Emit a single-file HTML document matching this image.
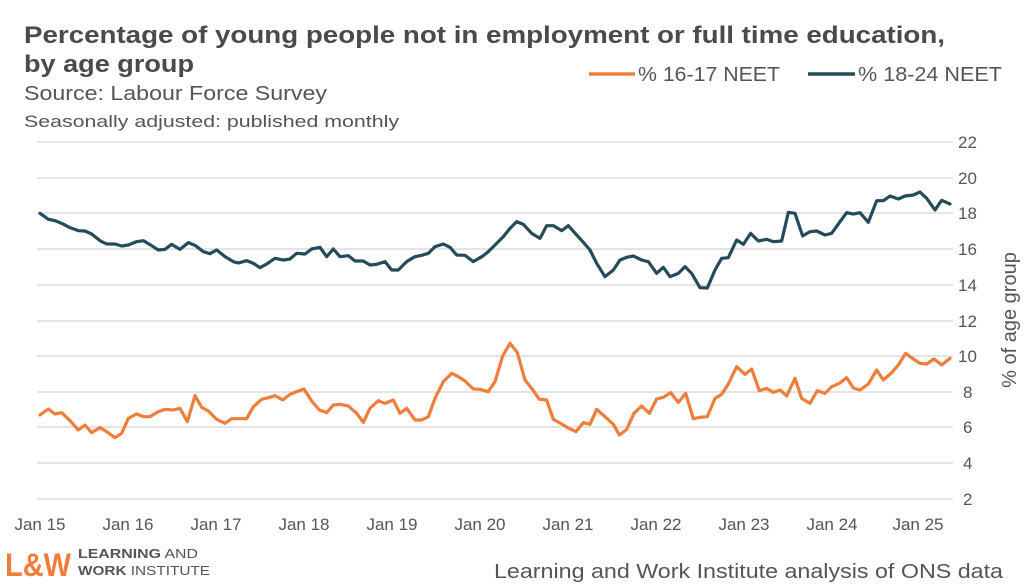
<!DOCTYPE html>
<html><head><meta charset="utf-8"><style>
html,body{margin:0;padding:0;background:#fff;}
svg{display:block;font-family:"Liberation Sans",sans-serif;}
</style></head><body>
<svg width="1024" height="586" viewBox="0 0 1024 586" xmlns="http://www.w3.org/2000/svg">
<rect width="1024" height="586" fill="#fff"/>
<text x="24" y="43" font-size="24" font-weight="bold" fill="#4a4a4a" textLength="921" lengthAdjust="spacingAndGlyphs">Percentage of young people not in employment or full time education,</text>
<text x="24" y="72" font-size="24" font-weight="bold" fill="#4a4a4a" textLength="170" lengthAdjust="spacingAndGlyphs">by age group</text>
<text x="24" y="100" font-size="20" fill="#555" textLength="303" lengthAdjust="spacingAndGlyphs">Source: Labour Force Survey</text>
<text x="24" y="127" font-size="17" fill="#555" textLength="375" lengthAdjust="spacingAndGlyphs">Seasonally adjusted: published monthly</text>
<line x1="589" y1="74" x2="635" y2="74" stroke="#ef7d3b" stroke-width="3.5"/>
<text x="638" y="81" font-size="20" fill="#555" textLength="142" lengthAdjust="spacingAndGlyphs">% 16-17 NEET</text>
<line x1="808" y1="74" x2="855" y2="74" stroke="#234b59" stroke-width="3.5"/>
<text x="858" y="81" font-size="20" fill="#555" textLength="144" lengthAdjust="spacingAndGlyphs">% 18-24 NEET</text>
<g stroke="#dcdcdc" stroke-width="1.5">
<line x1="37" x2="953" y1="142" y2="142"/><line x1="37" x2="953" y1="178" y2="178"/>
<line x1="37" x2="953" y1="213" y2="213"/><line x1="37" x2="953" y1="249" y2="249"/>
<line x1="37" x2="953" y1="285" y2="285"/><line x1="37" x2="953" y1="321" y2="321"/>
<line x1="37" x2="953" y1="356" y2="356"/><line x1="37" x2="953" y1="392" y2="392"/>
<line x1="37" x2="953" y1="427" y2="427"/><line x1="37" x2="953" y1="463" y2="463"/>
<line x1="37" x2="953" y1="499" y2="499"/>
</g>
<g font-size="17" fill="#555">
<text x="958" y="148">22</text><text x="958" y="184">20</text><text x="958" y="219">18</text>
<text x="958" y="255">16</text><text x="958" y="291">14</text><text x="958" y="327">12</text>
<text x="958" y="362">10</text><text x="963" y="398">8</text><text x="963" y="433">6</text>
<text x="963" y="469">4</text><text x="963" y="505">2</text>
</g>
<text transform="translate(1016,320) rotate(-90)" text-anchor="middle" font-size="20" fill="#555">% of age group</text>
<g font-size="17" fill="#555" text-anchor="middle">
<text x="40" y="530">Jan 15</text><text x="128" y="530">Jan 16</text><text x="216" y="530">Jan 17</text>
<text x="304" y="530">Jan 18</text><text x="392" y="530">Jan 19</text><text x="480" y="530">Jan 20</text>
<text x="568" y="530">Jan 21</text><text x="656" y="530">Jan 22</text><text x="744" y="530">Jan 23</text>
<text x="832" y="530">Jan 24</text><text x="918" y="530">Jan 25</text>
</g>
<g fill="none" stroke-linejoin="round" stroke-linecap="round">
<g transform="translate(0,190) scale(0.33333)">
<polyline vector-effect="non-scaling-stroke" stroke="#234b59" stroke-width="3.2" points="120,70 145,88 165,92 185,100 210,113 235,122 255,123 275,132 300,152 320,162 345,162 365,168 385,165 410,155 430,152 455,167 475,180 495,178 515,163 540,178 565,158 585,166 610,185 630,191 650,180 675,200 700,215 715,219 740,212 760,220 780,233 800,222 825,205 850,210 870,207 890,190 915,192 935,177 960,172 980,200 1000,177 1020,200 1045,197 1065,213 1090,213 1110,225 1130,223 1155,215 1175,240 1195,240 1220,215 1245,200 1265,196 1285,190 1305,170 1330,162 1350,172 1370,195 1395,196 1420,215 1445,200 1440,204"/>
<polyline vector-effect="non-scaling-stroke" stroke="#ef7d3b" stroke-width="3.2" points="120,675 145,657 165,672 185,668 210,692 235,720 255,705 275,728 300,713 320,725 345,743 365,730 385,685 410,672 430,680 450,680 475,665 495,658 520,660 540,655 562,695 585,617 605,652 625,663 650,688 675,700 695,686 740,686 760,650 785,628 805,623 825,617 848,630 870,613 890,605 912,597 935,633 958,660 980,668 1000,645 1020,643 1045,648 1070,670 1090,697 1110,655 1135,632 1155,640 1180,630 1200,670 1220,655 1245,690 1265,690 1285,680 1305,625 1330,575 1355,550 1375,560 1395,573 1420,597 1440,598 1465,605"/>
</g>
<g transform="translate(480,180) scale(0.33333)">
<polyline vector-effect="non-scaling-stroke" stroke="#234b59" stroke-width="3.2" points="6,230 25,215 45,195 70,170 90,145 110,125 130,133 155,160 180,175 200,137 220,137 245,152 265,137 290,165 310,187 330,210 350,250 375,290 400,270 420,240 440,232 460,228 485,240 505,245 530,280 550,262 570,290 595,280 615,260 635,280 660,323 682,324 705,270 725,235 745,233 770,180 790,193 812,160 835,183 860,178 880,185 905,183 925,97 945,100 968,168 990,155 1010,153 1035,165 1055,160 1080,125 1100,98 1120,102 1140,98 1165,127 1190,62 1210,62 1230,48 1255,57 1275,48 1300,45 1320,36 1340,55 1365,90 1385,61 1410,72"/>
<polyline vector-effect="non-scaling-stroke" stroke="#ef7d3b" stroke-width="3.2" points="24,635 45,605 68,528 90,490 112,518 135,600 155,625 178,658 200,660 220,718 245,732 265,744 288,755 310,728 330,733 350,688 375,710 400,733 418,765 440,748 462,700 485,678 508,700 530,657 550,652 572,638 595,667 617,640 640,716 660,712 682,710 705,655 725,643 745,612 770,560 795,583 815,567 838,632 860,625 880,637 900,630 920,648 945,595 965,655 990,670 1012,632 1035,640 1055,620 1078,610 1100,593 1120,624 1140,630 1165,612 1190,570 1210,600 1235,578 1255,555 1277,520 1300,537 1320,550 1340,552 1362,537 1385,555 1410,535"/>
</g>
</g>
<text x="5" y="576" font-size="32" font-weight="bold" fill="#ef7d3b" textLength="66" lengthAdjust="spacingAndGlyphs">L&amp;W</text>
<text x="78" y="558" font-size="13" fill="#555" textLength="120" lengthAdjust="spacingAndGlyphs"><tspan font-weight="bold">LEARNING</tspan> AND</text>
<text x="78" y="575" font-size="13" fill="#555" textLength="132" lengthAdjust="spacingAndGlyphs"><tspan font-weight="bold">WORK</tspan> INSTITUTE</text>
<text x="494" y="578" font-size="20" fill="#555" textLength="509" lengthAdjust="spacingAndGlyphs">Learning and Work Institute analysis of ONS data</text>
</svg>
</body></html>
